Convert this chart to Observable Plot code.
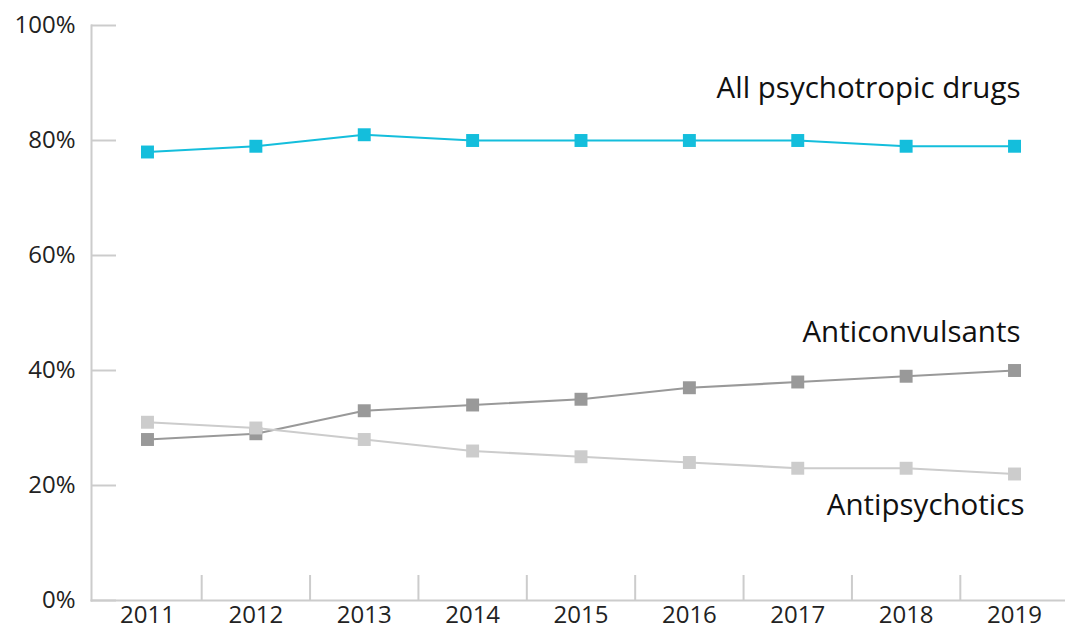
<!DOCTYPE html>
<html>
<head>
<meta charset="utf-8">
<script src="https://cdn.jsdelivr.net/npm/d3@7"></script>
<script src="https://cdn.jsdelivr.net/npm/@observablehq/plot@0.6"></script>
<style>
  html, body { margin: 0; padding: 0; background: #fff; }
  #chart svg { display: block; }
</style>
</head>
<body>
<div id="chart"></div>
<script>
const years = [2011, 2012, 2013, 2014, 2015, 2016, 2017, 2018, 2019];
const allPsychotropic = [78, 79, 81, 80, 80, 80, 80, 79, 79];
const anticonvulsants = [28, 29, 33, 34, 35, 37, 38, 39, 40];
const antipsychotics = [31, 30, 28, 26, 25, 24, 23, 23, 22];
const seriesNames = ["Anticonvulsants", "Antipsychotics", "All psychotropic drugs"];
const yTicks = [0, 20, 40, 60, 80, 100];

const seriesValues = {
  "Anticonvulsants": anticonvulsants,
  "Antipsychotics": antipsychotics,
  "All psychotropic drugs": allPsychotropic
};
const colors = {
  "All psychotropic drugs": "#14bedc",
  "Anticonvulsants": "#999999",
  "Antipsychotics": "#cccccc"
};
const labelOffsets = {
  "All psychotropic drugs": {dx: 6, dy: -58},
  "Anticonvulsants": {dx: 6, dy: -38},
  "Antipsychotics": {dx: 10, dy: 32}
};

const rows = seriesNames.flatMap(s => years.map((yr, i) => ({series: s, year: yr, value: seriesValues[s][i]})));
const lastRows = seriesNames.map(s => ({series: s, year: years[years.length - 1], value: seriesValues[s][years.length - 1]}));
const boundaries = years.slice(1).map(y => y - 0.5);

const W = 1065, H = 629;
const mLeft = 91, mTop = 25, mBottom = 29, mRight = 0;
const font = "'Open Sans', 'Noto Sans', sans-serif";

const marks = [
  Plot.ruleY(yTicks, {y: d => d, stroke: "#cccccc", strokeWidth: 2, insetRight: W - mLeft - mRight - 25}),
  Plot.ruleX(boundaries, {x: d => d, stroke: "#cccccc", strokeWidth: 2, insetTop: H - mTop - mBottom - 25}),
  Plot.frame({anchor: "left", stroke: "#cccccc", strokeWidth: 2}),
  Plot.frame({anchor: "bottom", stroke: "#cccccc", strokeWidth: 2}),
  Plot.axisY(yTicks, {tickSize: 0, tickPadding: 16, fill: "#222", tickFormat: d => d + "%", fontSize: 24, label: null}),
  Plot.axisX(years, {tickSize: 0, tickPadding: 5, fill: "#222", tickFormat: d => String(d), fontSize: 24, label: null}),
];
for (const s of seriesNames) {
  const data = rows.filter(r => r.series === s);
  marks.push(Plot.line(data, {x: "year", y: "value", stroke: colors[s], strokeWidth: 2.2}));
  marks.push(Plot.dot(data, {x: "year", y: "value", symbol: "square", r: 7.3, fill: colors[s], stroke: "none"}));
}
for (const d of lastRows) {
  marks.push(Plot.text([d], {x: "year", y: "value", text: "series", textAnchor: "end", fill: "#111", fontSize: 29.5, dx: labelOffsets[d.series].dx, dy: labelOffsets[d.series].dy}));
}

const chart = Plot.plot({
  width: W,
  height: H,
  marginLeft: mLeft,
  marginRight: mRight,
  marginTop: mTop,
  marginBottom: mBottom,
  style: {fontFamily: font, background: "#fff", overflow: "visible"},
  x: {type: "linear", domain: [2010.5, 2019.5], range: [92.8, 1068.2], axis: null},
  y: {domain: [0, 100], axis: null},
  marks
});
document.getElementById("chart").appendChild(chart);
</script>
</body>
</html>
